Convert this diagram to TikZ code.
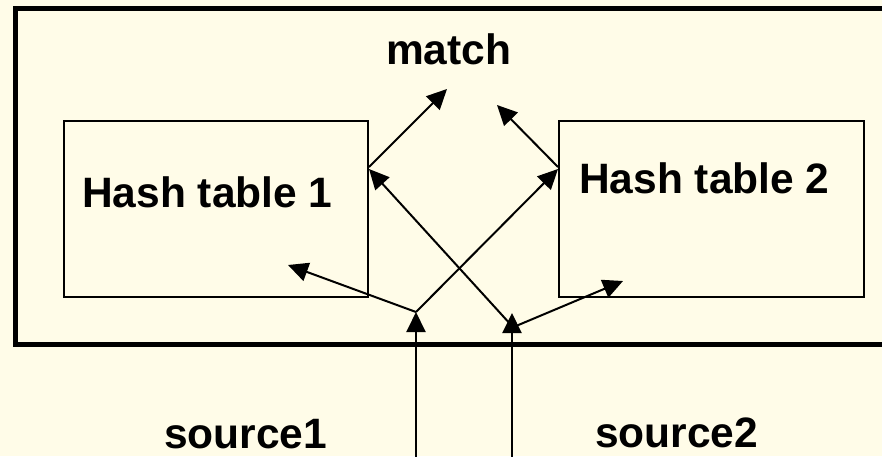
\documentclass[tikz,border=0pt]{standalone}
\usepackage{fontspec}
\setmainfont{Liberation Sans}
\usetikzlibrary{arrows.meta,calc}
\definecolor{bg}{RGB}{255,252,232}
\begin{document}
\begin{tikzpicture}[x=1pt,y=-1pt,
  lbl/.style={font=\fontsize{42.5}{42.5}\selectfont\bfseries, inner sep=0pt, anchor=base west},
  tbl/.style={draw, line width=2pt, minimum width=304pt, minimum height=176pt, inner sep=0pt},
  arr/.style={line width=2pt, -{Triangle[length=20pt,width=19pt]}}]
\useasboundingbox (0,0) rectangle (882,456);
\clip (0,0) rectangle (882,456);
\fill[bg] (0,0) rectangle (882,456);
\draw[line width=5pt] (15.5,8.5) rectangle (900,344.5);
\node[tbl] (ht1) at (216,209) {};
\node[tbl, minimum width=305pt] (ht2) at (711.5,209) {};
\node[lbl] (l1) at (82,207) {Hash table 1};
\node[lbl] (l2) at (579,193) {Hash table 2};
\node[lbl] (lm) at (386,64) {match};
\node[lbl] (ls1) at (164,448) {source1};
\node[lbl] (ls2) at (595,447) {source2};
% coordinates
\coordinate (m1) at (447,89);
\coordinate (m2) at (497,105);
\coordinate (s1bot) at (416,470);
\coordinate (s1) at (416,312);
\coordinate (s2bot) at (512,470);
\coordinate (s2) at (512,313);
\coordinate (s2a) at (512,326);
\coordinate (s2b) at (516,326);
\coordinate (in1) at (288,265);
\coordinate (in2) at (623,281);
\coordinate (ht1out) at ($(ht1.north east)+(0,47)$);
\coordinate (ht2out) at ($(ht2.north west)+(0,47)$);
\coordinate (ht1in) at ($(ht1.north east)+(0,49)$);
\coordinate (ht2in) at ($(ht2.north west)+(0,49)$);
% arrows
\draw[arr] (ht1out) -- (m1);
\draw[arr] (ht2out) -- (m2);
\draw[arr] (s1bot) -- (s1);
\draw[arr] (s2bot) -- (s2);
\draw[arr] (s1) -- (in1);
\draw[arr] (s1) -- (ht2in);
\draw[arr] (s2a) -- (ht1in);
\draw[arr] (s2b) -- (in2);
\end{tikzpicture}
\end{document}
